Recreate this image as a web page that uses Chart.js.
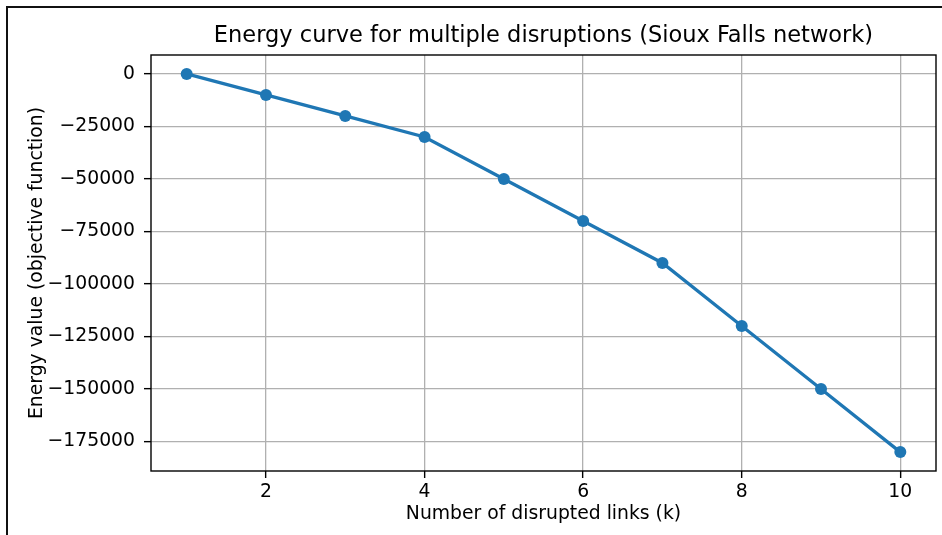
<!DOCTYPE html>
<html>
<head>
<meta charset="utf-8">
<title>Energy curve</title>
<script src="https://cdn.jsdelivr.net/npm/chart.js@4.4.1/dist/chart.umd.min.js"></script>
<style>
    html, body { margin: 0; padding: 0; background: #fff; }
    #wrap { position: relative; width: 942px; height: 535px; overflow: hidden; }
    #frame {
        position: absolute; left: 6px; top: 6px; width: 960px; height: 560px;
        border-left: 2px solid #111; border-top: 2px solid #111;
        pointer-events: none;
    }
    canvas { position: absolute; left: 0; top: 0; }
</style>
</head>
<body>
<div id="wrap">
    <canvas id="energyChart" width="942" height="535"></canvas>
    <div id="frame"></div>
</div>
<script>
// Number of disrupted links vs. energy (objective function value)
const linkCounts = [1, 2, 3, 4, 5, 6, 7, 8, 9, 10];
const energyValues = [0, -10000, -20000, -30000, -50000, -70000, -90000, -120000, -150000, -180000];

const xTickValues = [2, 4, 6, 8, 10];
const yTickValues = [0, -25000, -50000, -75000, -100000, -125000, -150000, -175000];

const chartTitle = 'Energy curve for multiple disruptions (Sioux Falls network)';

const FONT = 'DejaVu Sans';
const LABEL_SIZE = 18.8;
const LINE_BLUE = '#1f77b4';
const GRID_GRAY = '#b0b0b0';

// matplotlib-style minus sign, no thousands separators
const formatTick = v => (v < 0 ? '\u2212' + Math.abs(v) : String(v));

// box around the plotting area (all four spines) and a title centred over it
const spinesAndTitle = {
    id: 'spinesAndTitle',
    afterDraw(chart) {
        const { ctx, chartArea: a } = chart;
        ctx.save();
        ctx.strokeStyle = '#000';
        ctx.lineWidth = 1.4;
        ctx.strokeRect(a.left, a.top, a.right - a.left, a.bottom - a.top);

        ctx.fillStyle = '#000';
        ctx.font = `22.5px "${FONT}"`;
        ctx.textAlign = 'center';
        ctx.textBaseline = 'alphabetic';
        ctx.fillText(chartTitle, (a.left + a.right) / 2, 42);
        ctx.restore();
    }
};

const axisGrid = {
    color: GRID_GRAY,
    lineWidth: 1.3,
    tickColor: '#000',
    tickWidth: 1.4,
    tickLength: 7,
    drawTicks: true
};

new Chart(document.getElementById('energyChart'), {
    type: 'line',
    data: {
        datasets: [{
            data: linkCounts.map((k, i) => ({ x: k, y: energyValues[i] })),
            borderColor: LINE_BLUE,
            backgroundColor: LINE_BLUE,
            borderWidth: 3.3,
            pointRadius: 6,
            pointBorderWidth: 0,
            pointBackgroundColor: LINE_BLUE,
            tension: 0
        }]
    },
    plugins: [spinesAndTitle],
    options: {
        responsive: false,
        devicePixelRatio: 1,
        animation: false,
        layout: { padding: { left: 0, right: 1, top: 55, bottom: 0 } },
        plugins: {
            legend: { display: false },
            tooltip: { enabled: false },
            title: { display: false }
        },
        scales: {
            x: {
                type: 'linear',
                min: 0.55,
                max: 10.45,
                afterBuildTicks: scale => { scale.ticks = xTickValues.map(v => ({ value: v })); },
                afterFit: scale => { scale.height = 64; },
                grid: axisGrid,
                border: { display: false },
                ticks: {
                    color: '#000',
                    padding: 2.5,
                    maxRotation: 0,
                    font: { family: FONT, size: LABEL_SIZE },
                    callback: formatTick
                },
                title: {
                    display: true,
                    text: 'Number of disrupted links (k)',
                    color: '#000',
                    font: { family: FONT, size: LABEL_SIZE },
                    padding: { top: 0, bottom: 9.5 }
                }
            },
            y: {
                type: 'linear',
                min: -189000,
                max: 9000,
                afterBuildTicks: scale => { scale.ticks = yTickValues.map(v => ({ value: v })); },
                afterFit: scale => { scale.width = 151; },
                grid: axisGrid,
                border: { display: false },
                ticks: {
                    color: '#000',
                    padding: 9,
                    font: { family: FONT, size: LABEL_SIZE },
                    callback: formatTick
                },
                title: {
                    display: true,
                    text: 'Energy value (objective function)',
                    color: '#000',
                    font: { family: FONT, size: LABEL_SIZE },
                    padding: { top: 25.7, bottom: 0 }
                }
            }
        }
    }
});
</script>
</body>
</html>
